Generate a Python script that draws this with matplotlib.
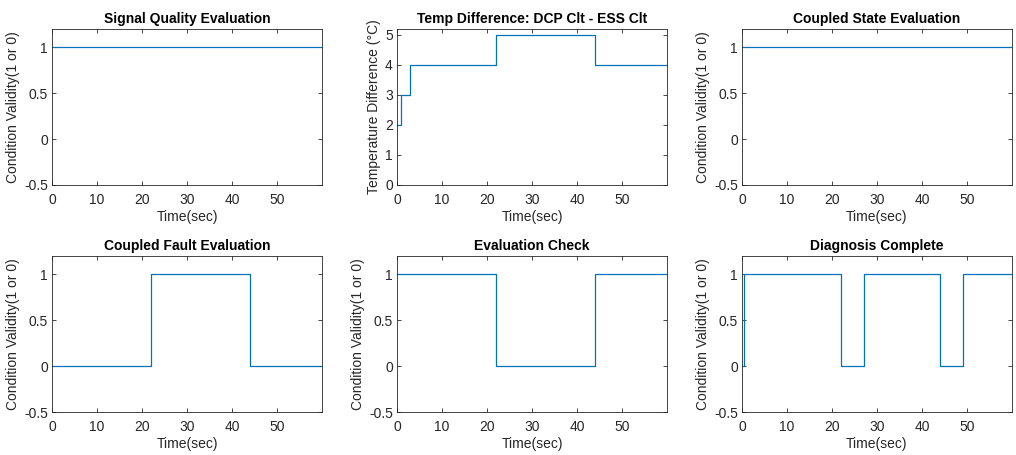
import matplotlib.pyplot as plt
import numpy as np

plt.rcParams['font.family'] = ['Liberation Sans', 'DejaVu Sans']

# step signals: change times (sec) and values held from each time
t_end = 59.9
signal_t = [0, t_end]
signal_v = [1, 1]

temp_t = [0, 0.9, 2.8, 22, 44, t_end]
temp_v = [2, 3, 4, 5, 4, 4]

coupled_t = [0, t_end]
coupled_v = [1, 1]

fault_t = [0, 22, 44, t_end]
fault_v = [0, 1, 0, 0]

check_t = [0, 22, 44, t_end]
check_v = [1, 0, 1, 1]

diag_t = [0, 0.35, 22, 27, 44, 49, t_end]
diag_v = [0, 1, 0, 1, 0, 1, 1]

panels = [
    ("Signal Quality Evaluation", signal_t, signal_v),
    ("Temp Difference: DCP Clt - ESS Clt", temp_t, temp_v),
    ("Coupled State Evaluation", coupled_t, coupled_v),
    ("Coupled Fault Evaluation", fault_t, fault_v),
    ("Evaluation Check", check_t, check_v),
    ("Diagnosis Complete", diag_t, diag_v),
]

W, H = 1016, 455
fig = plt.figure(figsize=(W / 100, H / 100), dpi=100)

lefts = [52, 397, 742]
width = 270
rows = [(29, 185), (256, 412)]
dark = '#262626'
fs = 10

for k, (title, t, v) in enumerate(panels):
    r, c = divmod(k, 3)
    top, bot = rows[r]
    ax = fig.add_axes([lefts[c] / W, 1 - bot / H, width / W, (bot - top) / H])
    ax.step(t, v, where='post', color='#0072BD', lw=0.9)
    ax.set_xlim(0, t_end)
    ax.set_xticks([0, 10, 20, 30, 40, 50])
    if k == 1:
        ax.set_ylim(0, 5.2)
        ax.set_yticks([0, 1, 2, 3, 4, 5])
        ax.set_ylabel('Temperature Difference (°C)', fontsize=fs, color=dark, labelpad=3)
    else:
        ax.set_ylim(-0.5, 1.2)
        ax.set_yticks([-0.5, 0, 0.5, 1])
        ax.set_yticklabels(['-0.5', '0', '0.5', '1'])
        ax.set_ylabel('Condition Validity(1 or 0)', fontsize=fs, color=dark, labelpad=3)
    ax.set_xlabel('Time(sec)', fontsize=fs, color=dark, labelpad=2)
    ax.set_title(title, fontsize=fs, fontweight='bold', pad=4)
    ax.tick_params(direction='in', top=True, right=True, labelsize=fs,
                   colors=dark, length=3, width=0.6)
    ax.tick_params(axis='x', pad=6)
    ax.tick_params(axis='y', pad=3)
    for s in ax.spines.values():
        s.set_color(dark)
        s.set_linewidth(0.6)

plt.savefig('out.png', dpi=100)
